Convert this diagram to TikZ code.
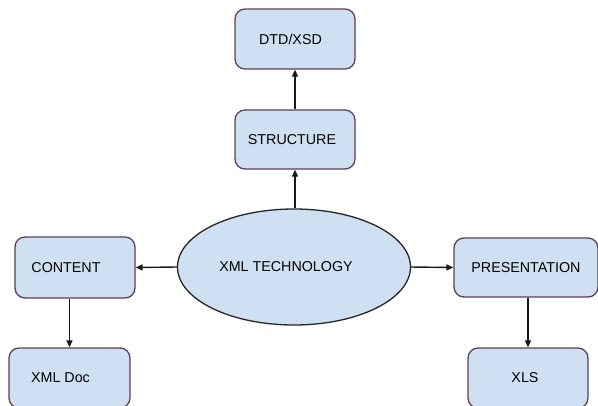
\documentclass[tikz,border=0pt]{standalone}
\usepackage{fontspec}
\setmainfont{Liberation Sans}
\usetikzlibrary{shapes.geometric,arrows.meta}
\definecolor{boxfill}{HTML}{CFE0F2}
\definecolor{boxline}{HTML}{5E3F55}
\begin{document}
\begin{tikzpicture}[x=1pt,y=-1pt,
  every node/.style={font=\fontsize{14.3}{16}\selectfont},
  rbox/.style={draw=boxline,fill=boxfill,line width=1.3pt,rounded corners=10pt,minimum width=120pt,minimum height=60pt,inner sep=0pt},
  oval/.style={draw=black!85,fill=boxfill,line width=1.3pt,ellipse,minimum width=233pt,minimum height=116pt,inner sep=0pt},
  conn/.style={draw=black!90,line width=1.4pt,-{Triangle[length=7pt,width=6pt]}}]
\useasboundingbox (0,0) rectangle (598,405);
\clip (0,0) rectangle (598,405);
\fill[white] (0,0) rectangle (598,405);
\node[oval] (tech) at (294,267) {\hspace*{-16pt}XML TECHNOLOGY};
\node[rbox] (dtd) at (295,39) {\hspace*{-9pt}DTD/XSD};
\node[rbox,minimum height=59pt] (struct) at (295,139.5) {\hspace*{-6pt}STRUCTURE};
\node[rbox,minimum height=61pt] (content) at (75,267.5) {\hspace*{-18pt}CONTENT};
\node[rbox,minimum width=144pt,minimum height=59pt] (pres) at (526,267.5) {PRESENTATION};
\node[rbox,minimum width=121pt] (xmldoc) at (69.5,378) {\hspace*{-18pt}XML Doc};
\node[rbox] (xls) at (528,378) {\hspace*{-6pt}XLS};
\draw[conn] (struct.south |- tech.north) -- (struct.south);
\draw[conn] (struct.north) -- (dtd.south);
\draw[conn] (tech.west) -- (content.east);
\draw[conn] (tech.east) -- (pres.west);
\draw[conn] (content.south -| xmldoc.north) -- (xmldoc.north);
\draw[conn] (pres.south -| xls.north) -- (xls.north);
\end{tikzpicture}
\end{document}
